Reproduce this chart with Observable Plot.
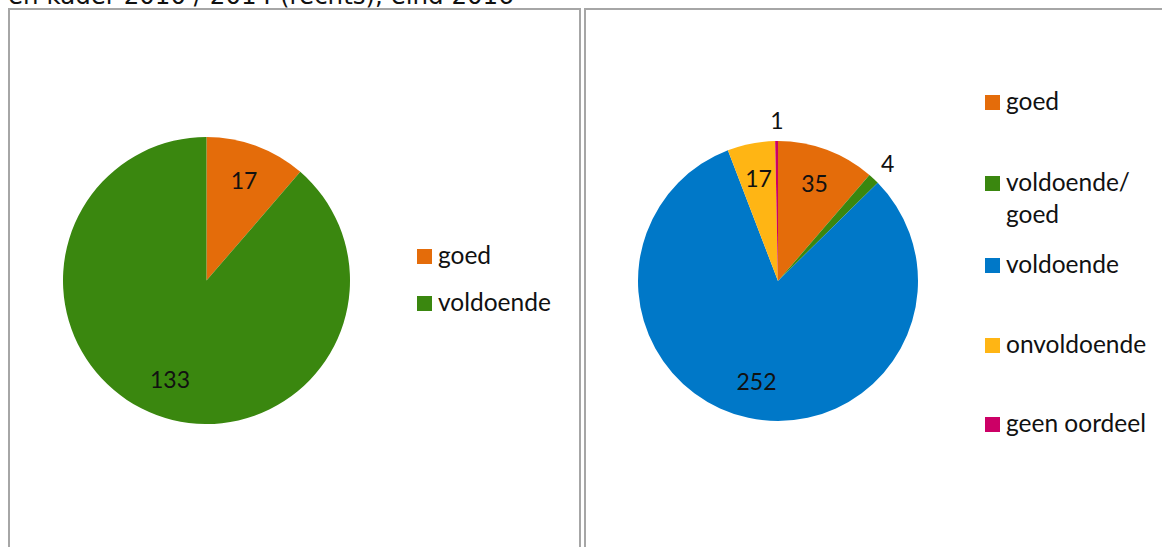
<!DOCTYPE html>
<html>
<head>
<meta charset="utf-8">
<script src="https://cdn.jsdelivr.net/npm/d3@7"></script>
<script src="https://cdn.jsdelivr.net/npm/@observablehq/plot@0.6"></script>
<style>
  html, body { margin: 0; padding: 0; background: #fff; width: 1162px; height: 547px; overflow: hidden; }
  #page { position: relative; width: 1162px; height: 547px; overflow: hidden; }
  .title { position: absolute; left: 8px; top: -18px; font-family: "DejaVu Sans", sans-serif; font-size: 24.5px; line-height: 28px; color: #111; white-space: nowrap; }
  .panel { position: absolute; top: 8px; height: 600px; border: 2px solid #a6a6a6; box-sizing: border-box; background: transparent; }
  .plot { position: absolute; left: 0; top: 0; }
  .leg { position: absolute; font-family: Lato, sans-serif; font-size: 24.5px; color: #111; white-space: nowrap; line-height: 32px; }
  .sw { position: absolute; width: 15px; height: 15px; }
</style>
</head>
<body>
<div id="page">
  <div class="title">en kader 2010 / 2014 (rechts), eind 2016</div>
  <div class="panel" style="left:8px; width:573px;"></div>
  <div class="panel" style="left:584px; width:600px;"></div>
</div>
<script>
// ---- data ----
const leftCategories = ["goed", "voldoende"];
const leftValues = [17, 133];
const leftColors = ["#E46C0A", "#3A870F"];

const rightCategories = ["goed", "voldoende/\ngoed", "voldoende", "onvoldoende", "geen oordeel"];
const rightValues = [35, 4, 252, 17, 1];
const rightColors = ["#E46C0A", "#3A870F", "#0078C8", "#FFB514", "#CC0066"];
const rightLabelOutside = [false, true, false, false, true];

// ---- layout ----
const W = 1162, H = 547;
const leftPie = {cx: 206.5, cy: 280.5, r: 143.5};
const rightPie = {cx: 778, cy: 281, r: 140};
const leftLegend = {x: 417, ys: [256, 303]};
const rightLegend = {x: 985, ys: [102, 183, 265, 345, 424]};

const page = document.getElementById("page");

function pieChart(categories, values, colors, outside, geom) {
  const arcs = d3.pie().sort(null).value(d => d)(values);
  const rows = arcs.map((a, i) => {
    const mid = (a.startAngle + a.endAngle) / 2;
    const k = outside[i] ? 1.14 : 0.74;
    return {cat: categories[i], value: values[i], color: colors[i], start: a.startAngle, end: a.endAngle,
            lx: Math.sin(mid) * k, ly: Math.cos(mid) * k};
  });
  const sliceMark = (index, scales, vals, dims) => {
    const cx = scales.x(0), cy = scales.y(0), r = scales.x(1) - scales.x(0);
    const arc = d3.arc().innerRadius(0).outerRadius(r);
    const g = d3.create("svg:g").attr("transform", `translate(${cx},${cy})`);
    g.selectAll("path").data(rows).join("path")
      .attr("d", d => arc({startAngle: d.start, endAngle: d.end}))
      .attr("fill", d => d.color);
    return g.node();
  };
  return Plot.plot({
    width: W, height: H, margin: 0,
    style: {background: "transparent", fontFamily: "Lato, sans-serif", overflow: "visible"},
    x: {domain: [-1, 1], range: [geom.cx - geom.r, geom.cx + geom.r], axis: null},
    y: {domain: [-1, 1], range: [geom.cy + geom.r, geom.cy - geom.r], axis: null},
    marks: [
      sliceMark,
      Plot.text(rows, {x: "lx", y: "ly", text: d => String(d.value), fontSize: 23, fill: "#111"})
    ]
  });
}

function legend(categories, colors, leg) {
  categories.forEach((c, i) => {
    const y = leg.ys[i];
    const sw = document.createElement("div");
    sw.className = "sw";
    sw.style.left = leg.x + "px";
    sw.style.top = (y - 7.5) + "px";
    sw.style.background = colors[i];
    page.appendChild(sw);
    const t = document.createElement("div");
    t.className = "leg";
    t.style.left = (leg.x + 21) + "px";
    t.style.top = (y - 17) + "px";
    t.innerHTML = c.split("\n").join("<br>");
    page.appendChild(t);
  });
}

const p1 = pieChart(leftCategories, leftValues, leftColors, [false, false], leftPie);
p1.classList.add("plot");
page.appendChild(p1);
const p2 = pieChart(rightCategories, rightValues, rightColors, rightLabelOutside, rightPie);
p2.classList.add("plot");
page.appendChild(p2);
legend(leftCategories, leftColors, leftLegend);
legend(rightCategories, rightColors, rightLegend);
</script>
</body>
</html>
